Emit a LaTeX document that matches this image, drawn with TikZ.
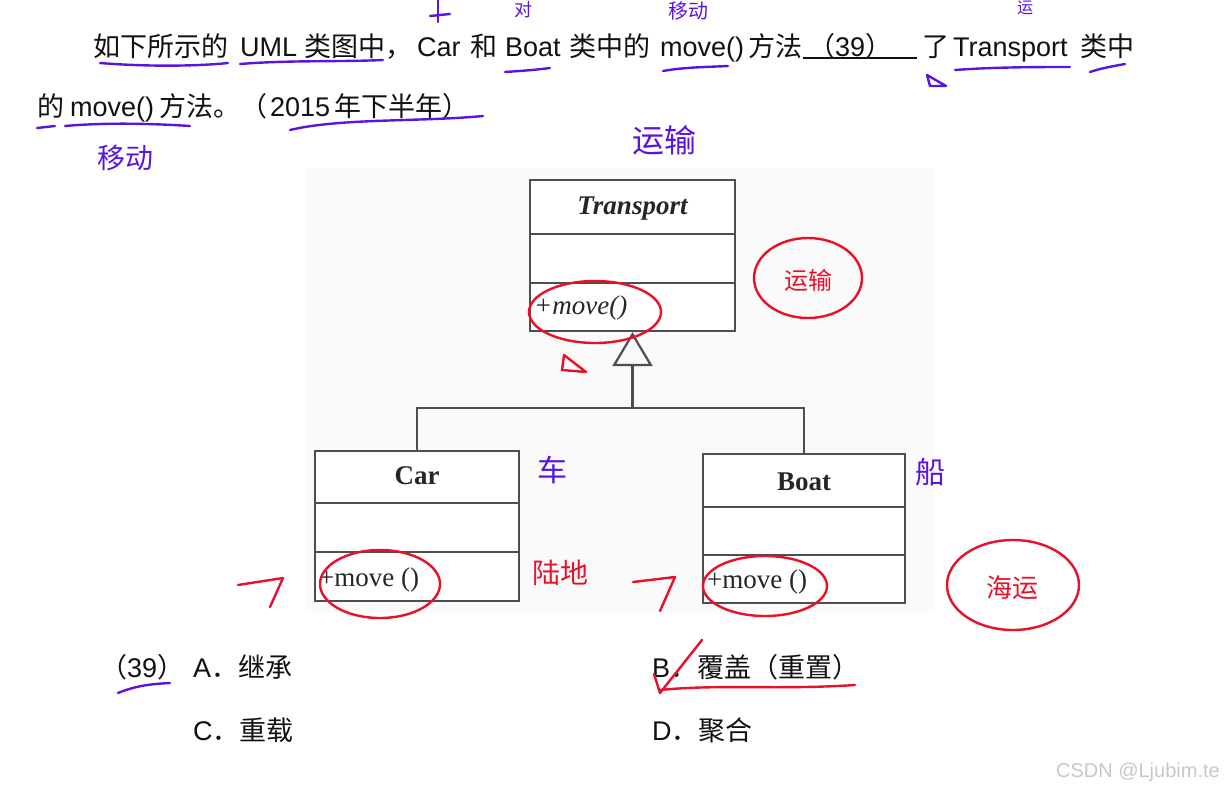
\documentclass[tikz,border=0pt]{standalone}
\usepackage{fontspec}
\setmainfont{Liberation Sans}
\newfontfamily\cjk{Noto Sans CJK SC}
\newfontfamily\umlf{Liberation Serif}
\usetikzlibrary{arrows.meta}
\definecolor{pen}{HTML}{5B14E0}
\definecolor{redpen}{HTML}{E8102A}
\definecolor{boxc}{HTML}{4E4E4E}
\definecolor{txt}{HTML}{111111}
\definecolor{wm}{HTML}{C8C8C8}
\tikzset{
  q/.style={anchor=base west, inner sep=0, text=txt, font=\fontsize{27}{27}\selectfont},
  cls/.style={draw=boxc, line width=2.2pt, inner sep=0, fill=white},
  part/.style={draw=boxc, line width=2.2pt},
  umltxt/.style={inner sep=0, text=black!85, font=\umlf\fontsize{27}{27}\selectfont},
  gen/.style={draw=boxc, line width=2.2pt},
  ink/.style={draw=pen, line width=2.4pt, line cap=round, line join=round},
  redink/.style={draw=redpen, line width=2.4pt, line cap=round, line join=round},
  hw/.style={inner sep=0, text=pen, font=\cjk\fontsize{28}{28}\selectfont},
  redhw/.style={inner sep=0, text=redpen, font=\cjk\fontsize{26}{26}\selectfont},
}
\begin{document}
\begin{tikzpicture}[x=1pt,y=-1pt]
\useasboundingbox[fill=white] (0,0) rectangle (1224,790);

% ---------- question text ----------
\node[q] (t1) at (93,56) {\cjk 如下所示的};
\node[q] (t2) at (240,56) {UML};
\node[q] (t3) at (304,56) {\cjk 类图中，};
\node[q] (t4) at (417,56) {Car};
\node[q] (t5) at (470,56) {\cjk 和};
\node[q] (t6) at (505,56) {Boat};
\node[q] (t7) at (569,56) {\cjk 类中的};
\node[q] (t8) at (660,56) {move()};
\node[q] (t9) at (748,56) {\cjk 方法};
\coordinate (bl1) at (803,58);
\coordinate (bl2) at (917,58);
\draw[line width=1.6pt, txt] (bl1) -- (bl2);
\node[q] (t10) at (808,56) {\cjk （\rmfamily 39\cjk ）};
\node[q] (t11) at (922,56) {\cjk 了};
\node[q] (t12) at (953,56) {Transport};
\node[q] (t13) at (1080,56) {\cjk 类中};

\node[q] (u1) at (37,116) {\cjk 的};
\node[q] (u2) at (70,116) {move()};
\node[q] (u3) at (159,116) {\cjk 方法。（};
\node[q] (u4) at (270,116) {2015};
\node[q] (u5) at (334,116) {\cjk 年下半年）};

% ---------- UML diagram ----------
\fill[black!2] (305,168) rectangle (935,612);

\node[cls, minimum width=205pt, minimum height=151pt] (transport) at (632.5,255.5) {};
\draw[part] (530,234) -- (735,234);
\draw[part] (530,283) -- (735,283);
\node[umltxt, font=\umlf\bfseries\itshape\fontsize{27}{27}\selectfont] (tname) at (632.5,209) {Transport};
\node[umltxt, anchor=base west, font=\umlf\itshape\fontsize{27}{27}\selectfont] (tmove) at (534,314) {+move()};

\node[cls, minimum width=204pt, minimum height=150pt] (car) at (417,526) {};
\draw[part] (315,503) -- (519,503);
\draw[part] (315,552) -- (519,552);
\node[umltxt, font=\umlf\bfseries\fontsize{27}{27}\selectfont] (cname) at (417,476) {Car};
\node[umltxt, anchor=base west] (cmove) at (319,586) {+move ()};

\node[cls, minimum width=202pt, minimum height=149pt] (boat) at (804,528.5) {};
\draw[part] (703,507) -- (905,507);
\draw[part] (703,555) -- (905,555);
\node[umltxt, font=\umlf\bfseries\fontsize{27}{27}\selectfont] (bname) at (804,482) {Boat};
\node[umltxt, anchor=base west] (bmove) at (707,588) {+move ()};

\coordinate (junc) at (632.5,408);
\draw[gen] (car.north) |- (junc);
\draw[gen] (boat.north) |- (junc);
\draw[gen, -{Triangle[open, length=34pt, width=40pt, line width=2.2pt]}] (junc) -- (transport.south);

% ---------- options ----------
\node[q] (o0) at (100,677) {\cjk （\rmfamily 39\cjk ）};
\node[q] (oa) at (193,677) {A\cjk ．继承};
\node[q] (ob) at (652,677) {B\cjk ．覆盖（重置）};
\node[q] (oc) at (193,740) {C\cjk ．重载};
\node[q] (od) at (652,740) {D\cjk ．聚合};

\node[anchor=base east, inner sep=0, text=wm, font=\fontsize{20}{20}\selectfont] (wmk) at (1220,777) {CSDN @Ljubim.te};

% ---------- purple handwriting ----------
\draw[ink] (100,63) .. controls (150,67) and (200,66) .. (228,63);
\draw[ink] (240,64) .. controls (290,60) and (340,62) .. (383,60);
\draw[ink] (505,72) .. controls (520,71) and (535,70) .. (550,68);
\draw[ink] (663,71) .. controls (685,67) and (710,67) .. (728,66);
\draw[ink] (955,70) .. controls (995,67) and (1040,67) .. (1070,67);
\draw[ink] (1090,72) .. controls (1102,68) and (1114,66) .. (1125,64);
\draw[ink] (37,128) -- (55,126);
\draw[ink] (65,126) .. controls (110,122) and (160,124) .. (190,126);
\draw[ink] (290,130) .. controls (340,118) and (420,122) .. (483,116);
\draw[ink] (118,693) .. controls (135,686) and (150,684) .. (170,683);
\draw[ink] (927,75) -- (930,86) -- (946,86) -- cycle;
\draw[ink] (430,16) -- (450,14);
\draw[ink] (438,0) -- (438,22);
\node[hw, anchor=north, font=\cjk\fontsize{18}{18}\selectfont] (top1) at (523,1) {对};
\node[hw, anchor=north, font=\cjk\fontsize{20}{20}\selectfont] (top2) at (688,1) {移动};
\node[hw, anchor=north, font=\cjk\fontsize{16}{16}\selectfont] (top3) at (1025,1) {运};
\node[hw, font=\cjk\fontsize{32}{32}\selectfont] (hw1) at (664,140) {运输};
\node[hw] (hw2) at (125,158) {移动};
\node[hw, font=\cjk\fontsize{30}{30}\selectfont] (hw3) at (552,470) {车};
\node[hw, font=\cjk\fontsize{30}{30}\selectfont] (hw4) at (930,472) {船};

% ---------- red handwriting ----------
\draw[redink] (595,312) ellipse [x radius=66, y radius=31];
\draw[redink] (808,278) ellipse [x radius=54, y radius=40];
\node[redhw, font=\cjk\fontsize{24}{24}\selectfont] (r1) at (808,280) {运输};
\draw[redink] (564,355) -- (562,370) -- (586,372) -- cycle;
\draw[redink] (380,584) ellipse [x radius=60, y radius=34];
\draw[redink] (238,585) -- (283,578) -- (270,607);
\node[redhw, font=\cjk\fontsize{28}{28}\selectfont] (r2) at (560,573) {陆地};
\draw[redink] (765,586) ellipse [x radius=62, y radius=30];
\draw[redink] (633,582) -- (675,577) -- (660,611);
\draw[redink] (1013,585) ellipse [x radius=66, y radius=45];
\node[redhw] (r3) at (1012,588) {海运};
\draw[redink] (654,674) -- (660,693) -- (702,640);
\draw[redink] (660,690) .. controls (720,684) and (780,690) .. (855,685);
\end{tikzpicture}
\end{document}
